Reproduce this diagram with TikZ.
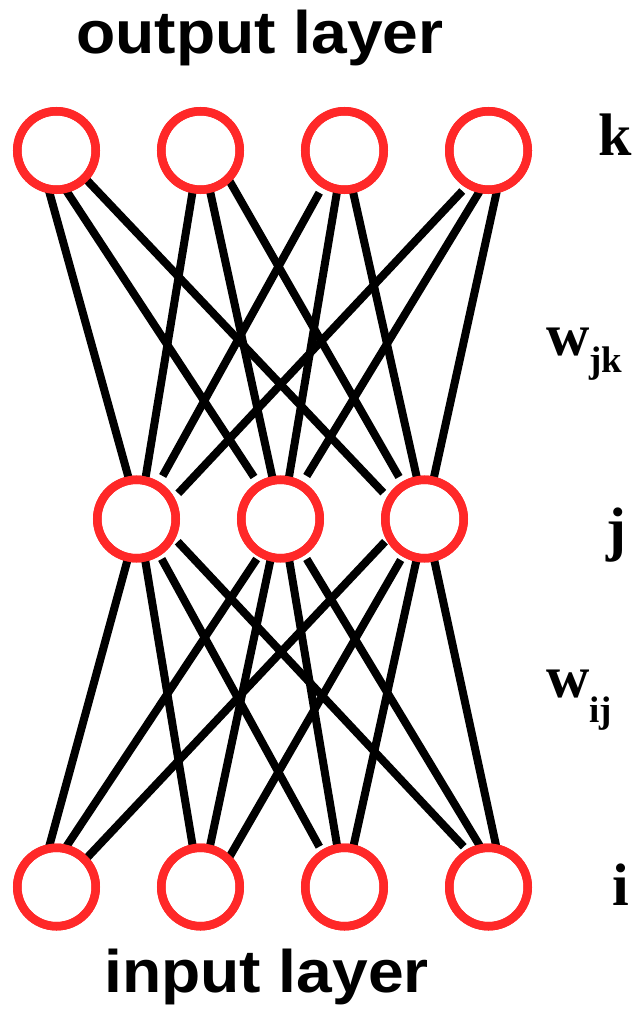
\documentclass[tikz,border=0pt]{standalone}
\usepackage{fontspec}
\setmainfont{Liberation Sans}
\newfontfamily\seriffont{Liberation Serif}
\usetikzlibrary{calc}
\definecolor{nodered}{RGB}{255,40,40}
\tikzset{
  neuron/.style={circle, draw=nodered, line width=8.5pt, minimum size=78.5pt, inner sep=0pt, outer sep=0pt},
  conn/.style={line width=8pt, black, line cap=butt},
  layertxt/.style={font=\bfseries\fontsize{60}{60}\selectfont, inner sep=0pt, anchor=base west},
  lbl/.style={font=\seriffont\bfseries\fontsize{60}{60}\selectfont, inner sep=0pt, anchor=base west}
}
\begin{document}
\begin{tikzpicture}[x=1pt,y=-1pt]
\useasboundingbox (0,0) rectangle (638,1014);
% neurons
\node[neuron] (t1) at (56.5,150.5) {};
\node[neuron] (t2) at (200.5,150.5) {};
\node[neuron] (t3) at (344.5,150.5) {};
\node[neuron] (t4) at (488.5,150.5) {};
\node[neuron] (m1) at (136.5,519) {};
\node[neuron] (m2) at (280.5,519) {};
\node[neuron] (m3) at (424.5,519) {};
\node[neuron] (b1) at (56.5,887) {};
\node[neuron] (b2) at (200.5,887) {};
\node[neuron] (b3) at (344.5,887) {};
\node[neuron] (b4) at (488.5,887) {};
% top connectors
\draw[conn] ($(t1)+(-7.5,40.5)$) -- ($(m1)+(-8.2,-42.3)$);
\draw[conn] ($(t1)+(10,40.5)$) -- ($(m2)+(-26.5,-42)$);
\draw[conn] ($(t1)+(26.5,25.5)$) -- ($(m3)+(-41.2,-26.3)$);
\draw[conn] ($(t2)+(-7.8,40.5)$) -- ($(m1)+(9.2,-42.3)$);
\draw[conn] ($(t2)+(9.5,40.5)$) -- ($(m2)+(-8.2,-42)$);
\draw[conn] ($(t2)+(26.2,25.5)$) -- ($(m3)+(-25.5,-42)$);
\draw[conn] ($(t3)+(-25.2,42.2)$) -- ($(m1)+(26.2,-43)$);
\draw[conn] ($(t3)+(-7.5,41.2)$) -- ($(m2)+(8.5,-42)$);
\draw[conn] ($(t3)+(8.5,41.2)$) -- ($(m3)+(-7.8,-42)$);
\draw[conn] ($(t4)+(-26.2,40.5)$) -- ($(m1)+(41.8,-25.7)$);
\draw[conn] ($(t4)+(-8.5,40.2)$) -- ($(m2)+(26.2,-43)$);
\draw[conn] ($(t4)+(8.2,41.2)$) -- ($(m3)+(9.5,-42)$);
% bottom connectors
\draw[conn] ($(m1)+(-8.8,40.3)$) -- ($(b1)+(-7.2,-41)$);
\draw[conn] ($(m1)+(8.5,40.3)$) -- ($(b2)+(-7.8,-41)$);
\draw[conn] ($(m1)+(25.2,40)$) -- ($(b3)+(-25.2,-40.3)$);
\draw[conn] ($(m1)+(41.2,22.7)$) -- ($(b4)+(-24.8,-40.3)$);
\draw[conn] ($(m2)+(-23.8,40)$) -- ($(b1)+(10.2,-41)$);
\draw[conn] ($(m2)+(-9.8,40)$) -- ($(b2)+(9.5,-41)$);
\draw[conn] ($(m2)+(8.5,40)$) -- ($(b3)+(-7.5,-42)$);
\draw[conn] ($(m2)+(26.2,40)$) -- ($(b4)+(-8.2,-40.3)$);
\draw[conn] ($(m3)+(-39.5,22.7)$) -- ($(b1)+(26.8,-25.3)$);
\draw[conn] ($(m3)+(-23.8,41)$) -- ($(b2)+(26.2,-25.3)$);
\draw[conn] ($(m3)+(-7.8,40)$) -- ($(b3)+(9.2,-42)$);
\draw[conn] ($(m3)+(9.5,40)$) -- ($(b4)+(7.8,-40.3)$);
% circles drawn again above the connector ends
\foreach \n in {t1,t2,t3,t4,m1,m2,m3,b1,b2,b3,b4}
  \draw[draw=nodered, line width=8.5pt] (\n.center) circle (39.25pt);
% texts
\node[layertxt] (outl) at (76,53.3) {\scalebox{1.07}[1]{output layer}};
\node[layertxt] (inl) at (104,992.7) {\scalebox{1.07}[1]{input layer}};
\node[lbl] (lk) at (598,155) {k};
\node[lbl] (lj) at (606,549) {j};
\node[lbl] (li) at (612,905) {i};
\node[lbl] (lwjk) at (546,355) {w\raisebox{-17pt}{\fontsize{37}{37}\selectfont jk}};
\node[lbl] (lwij) at (546,697) {w\raisebox{-25pt}{\fontsize{37}{37}\selectfont ij}};
\end{tikzpicture}
\end{document}
